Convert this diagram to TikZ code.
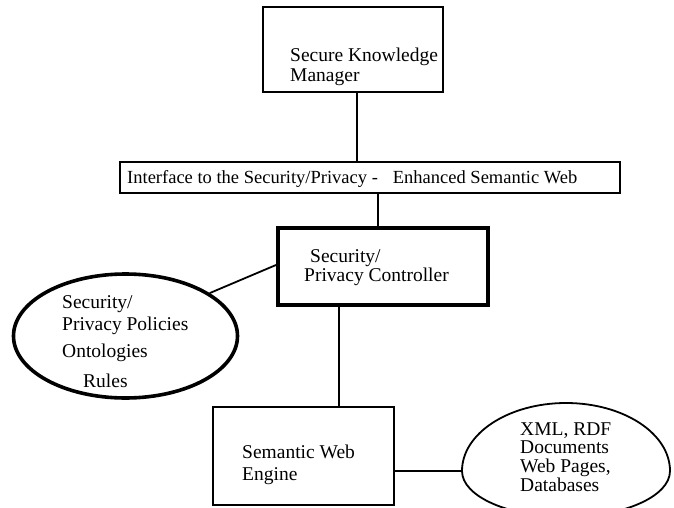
\documentclass[tikz,border=0pt]{standalone}
\usepackage{fontspec}
\setmainfont{Liberation Serif}
\usetikzlibrary{shapes.geometric}
\begin{document}
\begin{tikzpicture}[x=1pt,y=1pt,
  box/.style={draw,line width=1.8pt,inner sep=0pt},
  thickbox/.style={draw,line width=4pt,inner sep=0pt},
  lbl/.style={anchor=base west,inner sep=0pt,font=\fontsize{19.5}{19.5}\selectfont},
  wire/.style={line width=1.8pt}]
\useasboundingbox (0,0) rectangle (674,507);
\clip (0,0) rectangle (674,507);

% boxes
\node[box,minimum width=180,minimum height=85] (skm) at (353,457.5) {};
\node[box,minimum width=500,minimum height=31] (ifc) at (370,329.5) {};
\node[thickbox,minimum width=210,minimum height=77] (ctl) at (383,240.5) {};
\node[box,minimum width=181,minimum height=98] (eng) at (303.5,51) {};
\node[draw,ellipse,line width=3.6pt,inner sep=0pt,minimum width=224,minimum height=124] (pol) at (125.5,171) {};

% data store outline (flatter at the bottom)
\coordinate (dbw) at (462,36);
\draw[line width=1.8pt] (dbw) arc[start angle=180,end angle=0,x radius=104,y radius=68]
  arc[start angle=0,end angle=-180,x radius=104,y radius=46] -- cycle;

% labels
\node[lbl] (t1) at (290,445) {Secure Knowledge};
\node[lbl] (t2) at (290,425) {Manager};
\node[lbl,font=\fontsize{18.5}{18.5}\selectfont] (t3) at (127,324) {Interface to the Security/Privacy\ -\hspace{15pt}Enhanced Semantic Web};
\node[lbl] (t4) at (310,245) {Security/};
\node[lbl] (t5) at (304,226) {Privacy Controller};
\node[lbl] (t6) at (62,199) {Security/};
\node[lbl] (t7) at (62,177) {Privacy Policies};
\node[lbl] (t8) at (62,150) {Ontologies};
\node[lbl] (t9) at (83,120) {Rules};
\node[lbl] (t10) at (242,49) {Semantic Web};
\node[lbl] (t11) at (242,27) {Engine};
\node[lbl] (t12) at (520,72) {XML, RDF};
\node[lbl] (t13) at (520,54) {Documents};
\node[lbl] (t14) at (520,35) {Web Pages,};
\node[lbl] (t15) at (520,16) {Databases};

% connectors
\draw[wire] ([xshift=4pt]skm.south) -- ([xshift=4pt]skm.south |- ifc.north);
\draw[wire] ([xshift=-5pt]ctl.north) -- ([xshift=-5pt]ctl.north |- ifc.south);
\draw[wire] ([xshift=35.5pt]eng.north) -- ([xshift=35.5pt]eng.north |- ctl.south);
\draw[wire] (pol.27) -- ([yshift=1.5pt]ctl.west);
\draw[wire] (eng.east |- dbw) -- (dbw);
\end{tikzpicture}
\end{document}
